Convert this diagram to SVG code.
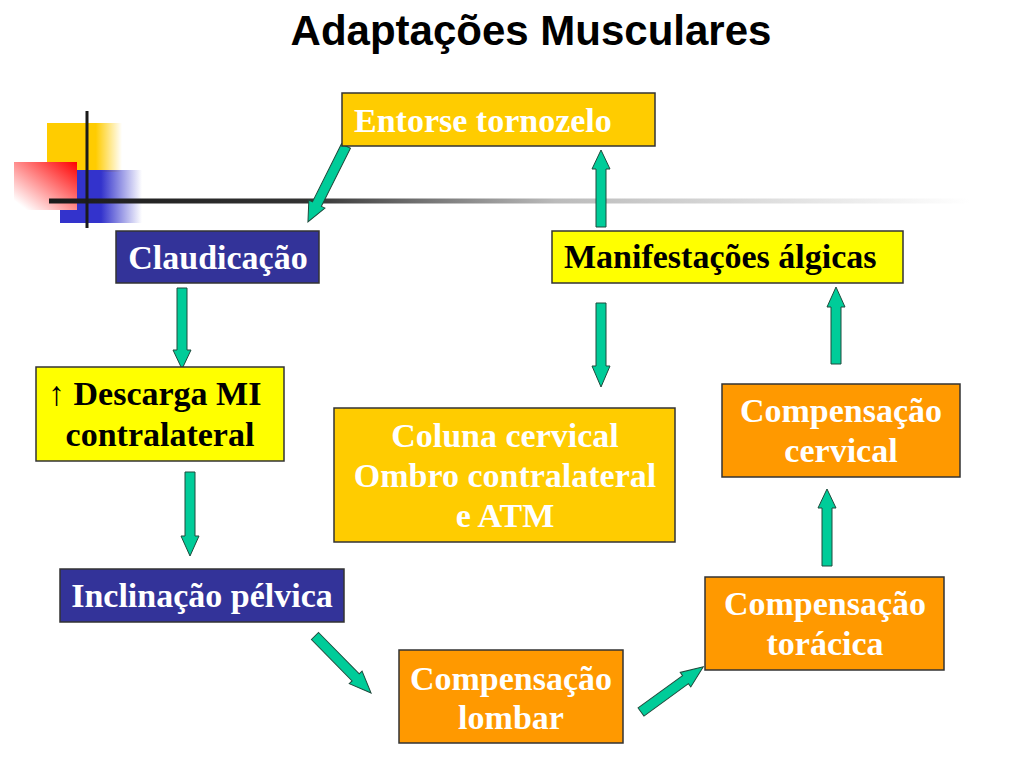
<svg xmlns="http://www.w3.org/2000/svg" width="1024" height="768" viewBox="0 0 1024 768">
<defs>
<linearGradient id="gY" x1="0" y1="0" x2="1" y2="0"><stop offset="0" stop-color="#FFCC00"/><stop offset="0.65" stop-color="#FFCC00"/><stop offset="1" stop-color="#FFCC00" stop-opacity="0"/></linearGradient>
<linearGradient id="gB" x1="0" y1="0" x2="1" y2="0"><stop offset="0" stop-color="#3333CC"/><stop offset="0.5" stop-color="#3333CC"/><stop offset="1" stop-color="#3333CC" stop-opacity="0"/></linearGradient>
<linearGradient id="gR" x1="1" y1="0" x2="0" y2="1"><stop offset="0" stop-color="#FF0000"/><stop offset="0.9" stop-color="#FFFFFF"/><stop offset="1" stop-color="#FFFFFF"/></linearGradient>
<linearGradient id="gL" gradientUnits="userSpaceOnUse" x1="49" y1="0" x2="970" y2="0"><stop offset="0" stop-color="#1a1a1a"/><stop offset="0.28" stop-color="#333333"/><stop offset="0.55" stop-color="#bbbbbb"/><stop offset="1" stop-color="#ffffff"/></linearGradient>
<style>
.box{stroke:#333333;stroke-width:1.5}
.gold{fill:#FFCC00}.orange{fill:#FF9900}.navy{fill:#333399}.yellow{fill:#FFFF00}
.t{font-family:"Liberation Serif","Times New Roman",serif;font-weight:bold;font-size:34px}
.w{fill:#FFFFFF}.k{fill:#000000}
.arr{fill:#00CC99;stroke:#1f4a3c;stroke-width:1}
</style>
</defs>
<rect width="1024" height="768" fill="#FFFFFF"/>
<text x="531" y="45" text-anchor="middle" font-family="Liberation Sans, Arial, sans-serif" font-weight="bold" font-size="42" fill="#000000">Adaptações Musculares</text>
<g id="decoration">
<rect x="47" y="123" width="75" height="49" fill="url(#gY)"/>
<rect x="60" y="170" width="82" height="53" fill="url(#gB)"/>
<rect x="14" y="162" width="63" height="48" fill="url(#gR)"/>
<rect x="49" y="198.5" width="921" height="5" fill="url(#gL)"/>
<rect x="85.5" y="111" width="3" height="117" fill="#1a1a1a"/>
</g>
<g id="connectors">
<path class="arr" transform="translate(346,146) rotate(116.6)" d="M0,-5 H65 V-9 L85,0 L65,9 V5 H0 Z"/>
<path class="arr" d="M177,288 H187 V350 H191 L182,369 L173,350 H177 Z"/>
<path class="arr" d="M185,472 H195 V536 H199 L190,556 L181,536 H185 Z"/>
<path class="arr" transform="translate(315,636) rotate(45.5)" d="M0,-5 H58 V-9 L80,0 L58,9 V5 H0 Z"/>
<path class="arr" transform="translate(641,712) rotate(-36)" d="M0,-5 H55 V-9 L77,0 L55,9 V5 H0 Z"/>
<path class="arr" d="M822,566 H832 V508 H836 L827,489 L818,508 H822 Z"/>
<path class="arr" d="M831,364 H841 V307 H845 L836,287 L827,307 H831 Z"/>
<path class="arr" d="M596,303 H606 V366 H610 L601,387 L592,366 H596 Z"/>
<path class="arr" d="M596,227 H606 V169 H610 L601,150 L592,169 H596 Z"/>
</g>
<g id="entorse">
<rect class="box gold" x="342" y="93" width="313" height="53"/>
<text class="t w" x="354" y="132">Entorse tornozelo</text>
</g>
<g id="claudicacao">
<rect class="box navy" x="116" y="231" width="203" height="52"/>
<text class="t w" x="218" y="269" text-anchor="middle">Claudicação</text>
</g>
<g id="descarga">
<rect class="box yellow" x="36" y="367" width="248" height="94"/>
<text class="t k" x="48" y="405"><tspan font-weight="normal">↑</tspan> Descarga MI</text>
<text class="t k" x="160" y="446" text-anchor="middle">contralateral</text>
</g>
<g id="inclinacao">
<rect class="box navy" x="60" y="569" width="284" height="53"/>
<text class="t w" x="202" y="607" text-anchor="middle">Inclinação pélvica</text>
</g>
<g id="coluna">
<rect class="box gold" x="334" y="408" width="341" height="134"/>
<text class="t w" x="505" y="447" text-anchor="middle">Coluna cervical</text>
<text class="t w" x="505" y="487" text-anchor="middle">Ombro contralateral</text>
<text class="t w" x="505" y="527" text-anchor="middle">e ATM</text>
</g>
<g id="lombar">
<rect class="box orange" x="399" y="650" width="224" height="93"/>
<text class="t w" x="511" y="690" text-anchor="middle">Compensação</text>
<text class="t w" x="511" y="729" text-anchor="middle">lombar</text>
</g>
<g id="toracica">
<rect class="box orange" x="705" y="577" width="239" height="93"/>
<text class="t w" x="825" y="615" text-anchor="middle">Compensação</text>
<text class="t w" x="825" y="655" text-anchor="middle">torácica</text>
</g>
<g id="cervical">
<rect class="box orange" x="722" y="384" width="238" height="93"/>
<text class="t w" x="841" y="422" text-anchor="middle">Compensação</text>
<text class="t w" x="841" y="462" text-anchor="middle">cervical</text>
</g>
<g id="manifestacoes">
<rect class="box yellow" x="552" y="231" width="351" height="52"/>
<text class="t k" x="564" y="268">Manifestações álgicas</text>
</g>
</svg>
